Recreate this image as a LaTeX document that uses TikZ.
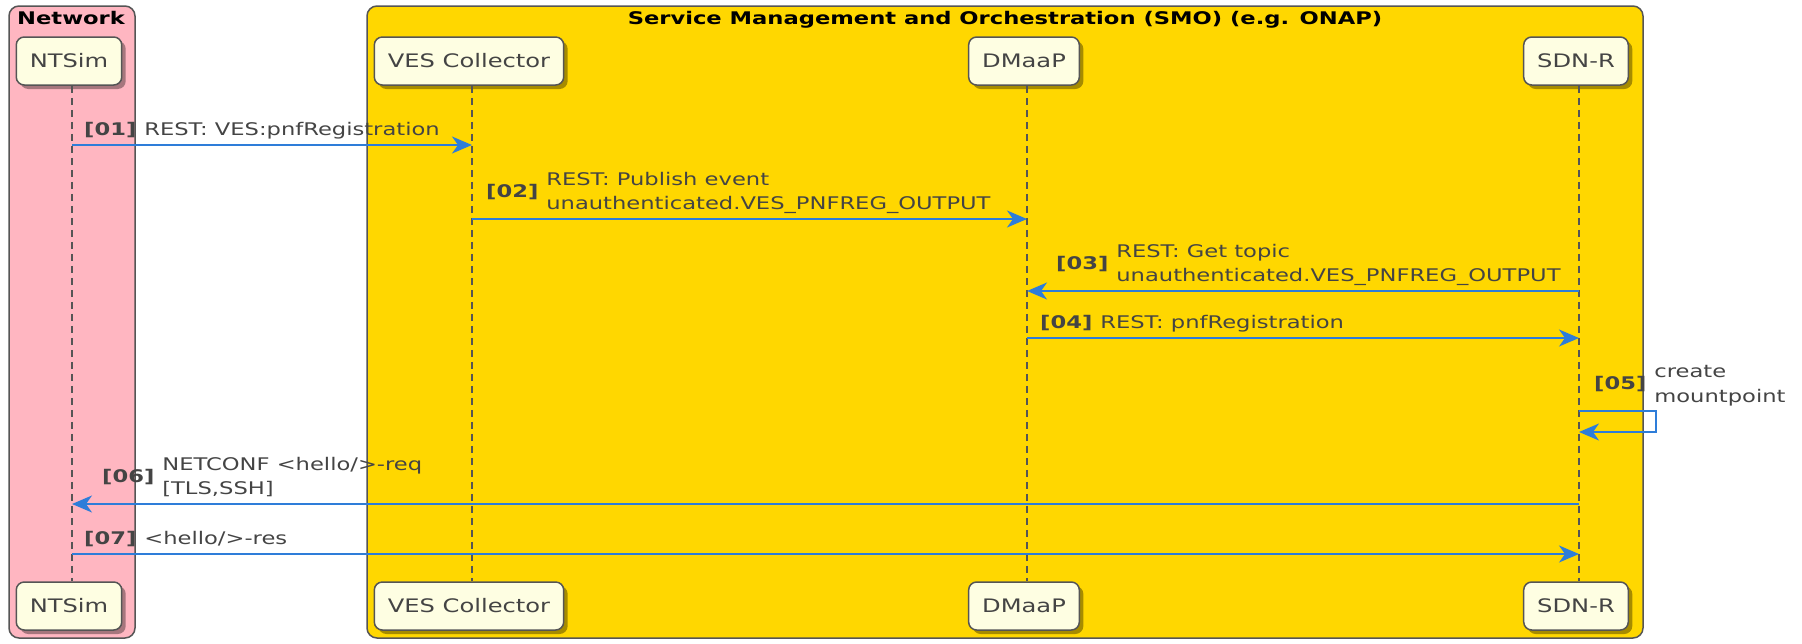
\documentclass[tikz,border=0pt]{standalone}
\usepackage{fontspec}
\setmainfont{DejaVu Sans}[FakeStretch=1.3]
\usepackage{tikz}
\usetikzlibrary{shadows}
\usetikzlibrary{arrows.meta}

\definecolor{netpink}{HTML}{FFB6C1}
\definecolor{smogold}{HTML}{FFD700}
\definecolor{actorfill}{HTML}{FEFEE2}
\definecolor{edgegray}{HTML}{555555}
\definecolor{msgblue}{HTML}{2E7DD9}
\definecolor{txtgray}{HTML}{444444}

\newcommand{\msgtext}[2]{{\bfseries[#1]}\hskip8pt\begin{tabular}[c]{@{}l@{}}#2\end{tabular}}

\tikzset{
   actor/.style={
      draw=edgegray,
      fill=actorfill,
      rounded corners=8pt,
      line width=1.5pt,
      minimum height=48pt,
      inner xsep=13.5pt,
      text=txtgray,
      font=\fontsize{18.6}{22}\selectfont,
      drop shadow={shadow xshift=4pt, shadow yshift=-4pt, fill=black, opacity=.35}
   },
   lifeline/.style={draw=edgegray, line width=1.2pt, dash pattern=on 7pt off 5pt},
   msg/.style={draw=msgblue, line width=1.6pt, -{Stealth[length=20pt,width=17pt,inset=6pt]}},
   msglbl/.style={inner sep=0pt, text=txtgray, font=\fontsize{17.4}{24.6}\selectfont},
   group/.style={draw=edgegray, line width=1.5pt, rounded corners=10pt},
   grouptitle/.style={inner sep=0pt, anchor=base, font=\fontsize{17.4}{20}\selectfont\bfseries}
}

\begin{document}
\begin{tikzpicture}[x=1pt, y=-1pt]
   \useasboundingbox (0,0) rectangle (1802,643);

   \draw[group, fill=netpink] (9,6) rectangle (135,638);
   \draw[group, fill=smogold] (367,6) rectangle (1643,638);
   \node[grouptitle, anchor=base west] (nettitle) at (17,24) {Network};
   \node[grouptitle] (smotitle) at (1005,24) {Service Management and Orchestration (SMO) (e.g. ONAP)};

   \foreach \name/\x/\txt in {ntsim/72/NTSim, ves/472/VES Collector, dmaap/1027/DMaaP, sdnr/1579/SDN-R} {
      \coordinate (\name) at (\x,0);
      \node[actor] (\name top) at (\x-3,61) {\txt};
      \node[actor] (\name bot) at (\x-3,606) {\txt};
      \draw[lifeline] (\name top.south -| \name) -- (\name bot.north -| \name);
   }

   \draw[msg] (ntsim |- 0,145) coordinate (m1) -- (ves |- 0,145);
   \node[msglbl, anchor=south west] (l1) at ([xshift=12pt, yshift=1.5pt]m1)
      {\msgtext{01}{REST: VES:pnfRegistration}};

   \draw[msg] (ves |- 0,219) coordinate (m2) -- (dmaap |- 0,219);
   \node[msglbl, anchor=south west] (l2) at ([xshift=14pt, yshift=1.5pt]m2)
      {\msgtext{02}{REST: Publish event\\unauthenticated.VES\_PNFREG\_OUTPUT}};

   \draw[msg] (sdnr |- 0,291) -- (dmaap |- 0,291) coordinate (m3);
   \node[msglbl, anchor=south west] (l3) at ([xshift=29pt, yshift=1.5pt]m3)
      {\msgtext{03}{REST: Get topic\\unauthenticated.VES\_PNFREG\_OUTPUT}};

   \draw[msg] (dmaap |- 0,338) coordinate (m4) -- (sdnr |- 0,338);
   \node[msglbl, anchor=south west] (l4) at ([xshift=13pt, yshift=1.5pt]m4)
      {\msgtext{04}{REST: pnfRegistration}};

   \draw[msg] (sdnr |- 0,411) coordinate (m5) -- ++(77,0) -- ++(0,21) -- (sdnr |- 0,432);
   \node[msglbl, anchor=south west] (l5) at ([xshift=15pt, yshift=1pt]m5)
      {\msgtext{05}{create\\mountpoint}};

   \draw[msg] (sdnr |- 0,504) -- (ntsim |- 0,504) coordinate (m6);
   \node[msglbl, anchor=south west] (l6) at ([xshift=30pt, yshift=1.5pt]m6)
      {\msgtext{06}{NETCONF <hello/>-req\\{}[TLS,SSH]}};

   \draw[msg] (ntsim |- 0,554) coordinate (m7) -- (sdnr |- 0,554);
   \node[msglbl, anchor=south west] (l7) at ([xshift=12pt, yshift=1.5pt]m7)
      {\msgtext{07}{<hello/>-res}};

\end{tikzpicture}
\end{document}
